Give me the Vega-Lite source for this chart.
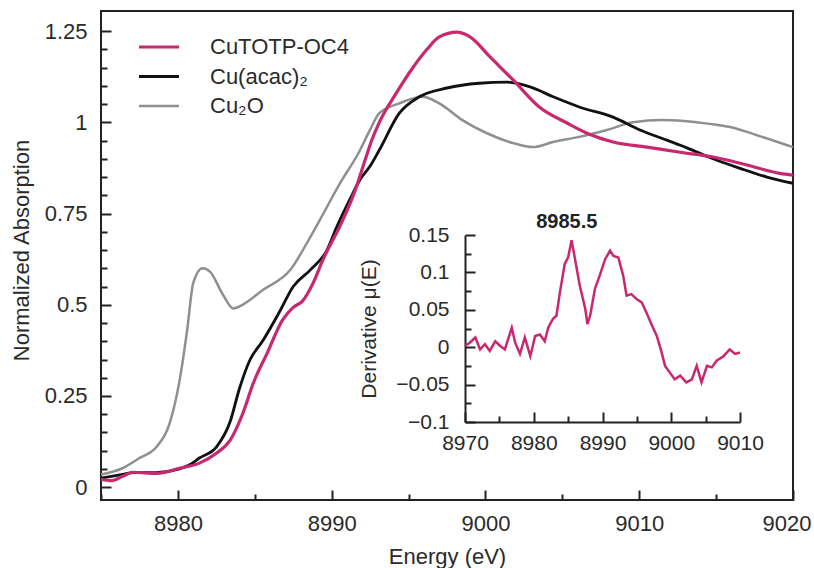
{
  "$schema": "https://vega.github.io/schema/vega-lite/v6.json",
  "width": 692,
  "height": 489,
  "autosize": {"type": "none"},
  "padding": {"left": 101, "top": 11, "right": 21, "bottom": 68},
  "config": {
    "view": {"stroke": "#222222", "strokeWidth": 2},
    "font": "Liberation Sans",
    "axis": {
      "grid": false,
      "tickColor": "#222222",
      "tickWidth": 2,
      "domainColor": "#222222",
      "domainWidth": 2,
      "labelColor": "#2a2a2a",
      "titleColor": "#2a2a2a",
      "labelFont": "Liberation Sans",
      "titleFont": "Liberation Sans",
      "titleFontWeight": "normal",
      "labelFlush": false,
      "labelOverlap": false
    }
  },
  "datasets": {
    "main": [
      {"sample": "Cu₂O", "E": 8975.0, "mu": 0.035},
      {"sample": "Cu₂O", "E": 8976.4, "mu": 0.052},
      {"sample": "Cu₂O", "E": 8977.5, "mu": 0.08},
      {"sample": "Cu₂O", "E": 8978.6, "mu": 0.11},
      {"sample": "Cu₂O", "E": 8979.5, "mu": 0.18},
      {"sample": "Cu₂O", "E": 8980.1, "mu": 0.29},
      {"sample": "Cu₂O", "E": 8980.6, "mu": 0.43},
      {"sample": "Cu₂O", "E": 8981.0, "mu": 0.56},
      {"sample": "Cu₂O", "E": 8981.6, "mu": 0.6},
      {"sample": "Cu₂O", "E": 8982.1, "mu": 0.59},
      {"sample": "Cu₂O", "E": 8982.9, "mu": 0.53},
      {"sample": "Cu₂O", "E": 8983.6, "mu": 0.49},
      {"sample": "Cu₂O", "E": 8984.2, "mu": 0.5},
      {"sample": "Cu₂O", "E": 8985.5, "mu": 0.54},
      {"sample": "Cu₂O", "E": 8987.3, "mu": 0.595},
      {"sample": "Cu₂O", "E": 8988.6, "mu": 0.685},
      {"sample": "Cu₂O", "E": 8989.2, "mu": 0.73},
      {"sample": "Cu₂O", "E": 8990.5, "mu": 0.83},
      {"sample": "Cu₂O", "E": 8991.8, "mu": 0.92},
      {"sample": "Cu₂O", "E": 8992.5, "mu": 0.98},
      {"sample": "Cu₂O", "E": 8993.1, "mu": 1.025},
      {"sample": "Cu₂O", "E": 8994.4, "mu": 1.052},
      {"sample": "Cu₂O", "E": 8995.9, "mu": 1.07},
      {"sample": "Cu₂O", "E": 8997.0, "mu": 1.052},
      {"sample": "Cu₂O", "E": 8998.5, "mu": 1.006},
      {"sample": "Cu₂O", "E": 9000.1, "mu": 0.97},
      {"sample": "Cu₂O", "E": 9001.8, "mu": 0.943},
      {"sample": "Cu₂O", "E": 9003.1, "mu": 0.932},
      {"sample": "Cu₂O", "E": 9004.4, "mu": 0.946},
      {"sample": "Cu₂O", "E": 9006.1, "mu": 0.96},
      {"sample": "Cu₂O", "E": 9007.9, "mu": 0.979},
      {"sample": "Cu₂O", "E": 9009.6, "mu": 1.0},
      {"sample": "Cu₂O", "E": 9011.5, "mu": 1.006},
      {"sample": "Cu₂O", "E": 9013.75, "mu": 1.0},
      {"sample": "Cu₂O", "E": 9015.9, "mu": 0.987},
      {"sample": "Cu₂O", "E": 9018.0, "mu": 0.96},
      {"sample": "Cu₂O", "E": 9020.0, "mu": 0.932},
      {"sample": "Cu(acac)₂", "E": 8975.0, "mu": 0.025},
      {"sample": "Cu(acac)₂", "E": 8976.4, "mu": 0.035},
      {"sample": "Cu(acac)₂", "E": 8977.1, "mu": 0.04},
      {"sample": "Cu(acac)₂", "E": 8978.6, "mu": 0.04},
      {"sample": "Cu(acac)₂", "E": 8980.1, "mu": 0.05},
      {"sample": "Cu(acac)₂", "E": 8980.8, "mu": 0.062},
      {"sample": "Cu(acac)₂", "E": 8981.4, "mu": 0.08},
      {"sample": "Cu(acac)₂", "E": 8982.5, "mu": 0.11},
      {"sample": "Cu(acac)₂", "E": 8983.4, "mu": 0.18},
      {"sample": "Cu(acac)₂", "E": 8984.0, "mu": 0.27},
      {"sample": "Cu(acac)₂", "E": 8984.7, "mu": 0.35},
      {"sample": "Cu(acac)₂", "E": 8985.5, "mu": 0.4},
      {"sample": "Cu(acac)₂", "E": 8986.6, "mu": 0.48},
      {"sample": "Cu(acac)₂", "E": 8987.5, "mu": 0.55},
      {"sample": "Cu(acac)₂", "E": 8988.6, "mu": 0.595},
      {"sample": "Cu(acac)₂", "E": 8989.7, "mu": 0.65},
      {"sample": "Cu(acac)₂", "E": 8990.3, "mu": 0.71},
      {"sample": "Cu(acac)₂", "E": 8991.2, "mu": 0.79},
      {"sample": "Cu(acac)₂", "E": 8991.8, "mu": 0.84},
      {"sample": "Cu(acac)₂", "E": 8992.5, "mu": 0.88},
      {"sample": "Cu(acac)₂", "E": 8993.1, "mu": 0.924},
      {"sample": "Cu(acac)₂", "E": 8994.4, "mu": 1.025},
      {"sample": "Cu(acac)₂", "E": 8995.7, "mu": 1.07},
      {"sample": "Cu(acac)₂", "E": 8997.5, "mu": 1.094},
      {"sample": "Cu(acac)₂", "E": 8999.6, "mu": 1.107},
      {"sample": "Cu(acac)₂", "E": 9001.4, "mu": 1.11},
      {"sample": "Cu(acac)₂", "E": 9002.9, "mu": 1.097},
      {"sample": "Cu(acac)₂", "E": 9004.4, "mu": 1.07},
      {"sample": "Cu(acac)₂", "E": 9006.1, "mu": 1.042},
      {"sample": "Cu(acac)₂", "E": 9008.3, "mu": 1.014},
      {"sample": "Cu(acac)₂", "E": 9010.05, "mu": 0.979},
      {"sample": "Cu(acac)₂", "E": 9011.8, "mu": 0.951},
      {"sample": "Cu(acac)₂", "E": 9013.1, "mu": 0.93},
      {"sample": "Cu(acac)₂", "E": 9014.8, "mu": 0.9},
      {"sample": "Cu(acac)₂", "E": 9016.55, "mu": 0.874},
      {"sample": "Cu(acac)₂", "E": 9018.3, "mu": 0.85},
      {"sample": "Cu(acac)₂", "E": 9020.0, "mu": 0.833},
      {"sample": "CuTOTP-OC4", "E": 8975.0, "mu": 0.022},
      {"sample": "CuTOTP-OC4", "E": 8975.7, "mu": 0.018},
      {"sample": "CuTOTP-OC4", "E": 8976.4, "mu": 0.03},
      {"sample": "CuTOTP-OC4", "E": 8977.1, "mu": 0.041},
      {"sample": "CuTOTP-OC4", "E": 8978.6, "mu": 0.038},
      {"sample": "CuTOTP-OC4", "E": 8980.1, "mu": 0.052},
      {"sample": "CuTOTP-OC4", "E": 8981.4, "mu": 0.066},
      {"sample": "CuTOTP-OC4", "E": 8982.5, "mu": 0.093},
      {"sample": "CuTOTP-OC4", "E": 8983.4, "mu": 0.129},
      {"sample": "CuTOTP-OC4", "E": 8984.2, "mu": 0.2},
      {"sample": "CuTOTP-OC4", "E": 8984.9, "mu": 0.285},
      {"sample": "CuTOTP-OC4", "E": 8985.8, "mu": 0.367},
      {"sample": "CuTOTP-OC4", "E": 8986.8, "mu": 0.458},
      {"sample": "CuTOTP-OC4", "E": 8987.5, "mu": 0.493},
      {"sample": "CuTOTP-OC4", "E": 8988.1, "mu": 0.51},
      {"sample": "CuTOTP-OC4", "E": 8988.8, "mu": 0.56},
      {"sample": "CuTOTP-OC4", "E": 8989.4, "mu": 0.62},
      {"sample": "CuTOTP-OC4", "E": 8990.7, "mu": 0.73},
      {"sample": "CuTOTP-OC4", "E": 8991.5, "mu": 0.81},
      {"sample": "CuTOTP-OC4", "E": 8992.2, "mu": 0.9},
      {"sample": "CuTOTP-OC4", "E": 8992.6, "mu": 0.95},
      {"sample": "CuTOTP-OC4", "E": 8993.1, "mu": 1.0},
      {"sample": "CuTOTP-OC4", "E": 8994.2, "mu": 1.08},
      {"sample": "CuTOTP-OC4", "E": 8995.3, "mu": 1.151},
      {"sample": "CuTOTP-OC4", "E": 8996.2, "mu": 1.2},
      {"sample": "CuTOTP-OC4", "E": 8997.0, "mu": 1.234},
      {"sample": "CuTOTP-OC4", "E": 8998.15, "mu": 1.247},
      {"sample": "CuTOTP-OC4", "E": 8999.0, "mu": 1.234},
      {"sample": "CuTOTP-OC4", "E": 9000.3, "mu": 1.179},
      {"sample": "CuTOTP-OC4", "E": 9001.8, "mu": 1.116},
      {"sample": "CuTOTP-OC4", "E": 9003.5, "mu": 1.042},
      {"sample": "CuTOTP-OC4", "E": 9005.3, "mu": 0.998},
      {"sample": "CuTOTP-OC4", "E": 9006.6, "mu": 0.97},
      {"sample": "CuTOTP-OC4", "E": 9008.3, "mu": 0.946},
      {"sample": "CuTOTP-OC4", "E": 9010.5, "mu": 0.932},
      {"sample": "CuTOTP-OC4", "E": 9012.65, "mu": 0.918},
      {"sample": "CuTOTP-OC4", "E": 9014.8, "mu": 0.905},
      {"sample": "CuTOTP-OC4", "E": 9017.0, "mu": 0.883},
      {"sample": "CuTOTP-OC4", "E": 9019.15, "mu": 0.86},
      {"sample": "CuTOTP-OC4", "E": 9020.0, "mu": 0.855}
    ],
    "deriv": [
      {"E": 8970.0, "dmu": 0.002},
      {"E": 8970.7, "dmu": 0.006},
      {"E": 8971.5, "dmu": 0.013},
      {"E": 8972.2, "dmu": -0.003},
      {"E": 8972.9, "dmu": 0.004},
      {"E": 8973.6, "dmu": -0.005},
      {"E": 8974.4, "dmu": 0.008},
      {"E": 8975.1, "dmu": 0.002},
      {"E": 8975.8, "dmu": -0.003},
      {"E": 8976.8, "dmu": 0.026},
      {"E": 8977.3, "dmu": 0.006},
      {"E": 8978.0, "dmu": -0.009},
      {"E": 8978.7, "dmu": 0.013},
      {"E": 8979.5, "dmu": -0.012},
      {"E": 8980.2, "dmu": 0.015},
      {"E": 8980.9, "dmu": 0.017},
      {"E": 8981.6, "dmu": 0.008},
      {"E": 8982.1, "dmu": 0.026},
      {"E": 8982.8, "dmu": 0.038},
      {"E": 8983.3, "dmu": 0.042},
      {"E": 8983.8, "dmu": 0.073},
      {"E": 8984.5, "dmu": 0.111},
      {"E": 8985.0, "dmu": 0.12},
      {"E": 8985.5, "dmu": 0.143},
      {"E": 8986.0, "dmu": 0.118},
      {"E": 8986.7, "dmu": 0.082},
      {"E": 8987.5, "dmu": 0.051},
      {"E": 8987.8, "dmu": 0.031},
      {"E": 8988.2, "dmu": 0.042},
      {"E": 8988.9, "dmu": 0.078},
      {"E": 8989.6, "dmu": 0.096},
      {"E": 8990.4, "dmu": 0.118},
      {"E": 8991.1, "dmu": 0.129},
      {"E": 8991.6, "dmu": 0.122},
      {"E": 8992.3, "dmu": 0.12},
      {"E": 8993.0, "dmu": 0.096},
      {"E": 8993.5, "dmu": 0.069},
      {"E": 8994.2, "dmu": 0.071},
      {"E": 8995.0, "dmu": 0.064},
      {"E": 8995.7, "dmu": 0.06},
      {"E": 8996.4, "dmu": 0.046},
      {"E": 8997.2, "dmu": 0.029},
      {"E": 8997.9, "dmu": 0.015},
      {"E": 8998.6, "dmu": -0.007},
      {"E": 8999.1, "dmu": -0.025},
      {"E": 8999.8, "dmu": -0.034},
      {"E": 9000.5, "dmu": -0.043},
      {"E": 9001.3, "dmu": -0.038},
      {"E": 9002.2, "dmu": -0.047},
      {"E": 9003.0, "dmu": -0.043},
      {"E": 9003.7, "dmu": -0.025},
      {"E": 9004.4, "dmu": -0.047},
      {"E": 9005.2, "dmu": -0.025},
      {"E": 9005.9, "dmu": -0.027},
      {"E": 9006.6, "dmu": -0.018},
      {"E": 9007.6, "dmu": -0.012},
      {"E": 9008.5, "dmu": -0.003},
      {"E": 9009.3, "dmu": -0.009},
      {"E": 9010.0, "dmu": -0.007}
    ],
    "note": [
      {"E": 8984.8, "dmu": 0.1676, "label": "8985.5"}
    ]
  },
  "layer": [
    {
      "layer": [
        {
          "data": {"name": "main"},
          "mark": {"type": "line", "interpolate": "monotone"},
          "encoding": {
            "x": {
              "field": "E",
              "type": "quantitative",
              "scale": {"domain": [8975, 9020], "nice": false, "zero": false},
              "axis": {
                "orient": "bottom",
                "title": "Energy (eV)",
                "values": [8980, 8990, 9000, 9010, 9020],
                "format": "d",
                "ticks": false,
                "tickSize": 0,
                "labelPadding": 30,
                "labelBaseline": "alphabetic",
                "labelFontSize": 22,
                "labelFlush": true,
                "labelFlushOffset": 18,
                "titleFontSize": 22,
                "titleBaseline": "alphabetic",
                "titleY": 63,
                "domain": false
              }
            },
            "y": {
              "field": "mu",
              "type": "quantitative",
              "scale": {"domain": [-0.035, 1.305], "nice": false, "zero": false},
              "axis": {
                "orient": "left",
                "title": "Normalized Absorption",
                "values": [0, 0.25, 0.5, 0.75, 1, 1.25],
                "labelExpr": "format(datum.value, '~g')",
                "ticks": false,
                "tickSize": 0,
                "labelPadding": 14,
                "labelFontSize": 22,
                "titleFontSize": 22,
                "titleX": -68,
                "titleY": 239,
                "domain": false
              }
            },
            "color": {
              "field": "sample",
              "type": "nominal",
              "scale": {"domain": ["CuTOTP-OC4", "Cu(acac)₂", "Cu₂O"], "range": ["#c8286e", "#111111", "#8f8f8f"]},
              "legend": {
                "title": null,
                "orient": "none",
                "legendX": 36,
                "legendY": 25,
                "padding": 0,
                "symbolType": "stroke",
                "symbolSize": 1600,
                "symbolStrokeWidth": 3,
                "clipHeight": 22,
                "rowPadding": 7.5,
                "labelOffset": 29,
                "labelFontSize": 22,
                "labelFont": "Liberation Sans",
                "labelColor": "#2a2a2a"
              }
            },
            "strokeWidth": {
              "field": "sample",
              "type": "nominal",
              "scale": {"domain": ["CuTOTP-OC4", "Cu(acac)₂", "Cu₂O"], "range": [3.2, 2.5, 2.2]},
              "legend": null
            }
          }
        },
        {
          "data": {"name": "main"},
          "mark": {"type": "point", "opacity": 0},
          "encoding": {
            "x": {
              "field": "E",
              "type": "quantitative",
              "axis": {
                "orient": "top",
                "offset": -489,
                "title": null,
                "labels": false,
                "domain": false,
                "values": [8975, 8980, 8985, 8990, 8995, 9000, 9005, 9010, 9015, 9020],
                "tickSize": {"condition": {"test": "datum.value % 10 === 0", "value": 10}, "value": 6}
              }
            },
            "y": {
              "field": "mu",
              "type": "quantitative",
              "axis": {
                "orient": "right",
                "offset": -692,
                "title": null,
                "labels": false,
                "domain": false,
                "values": [0, 0.05, 0.1, 0.15, 0.2, 0.25, 0.3, 0.35, 0.4, 0.45, 0.5, 0.55, 0.6, 0.65, 0.7, 0.75, 0.8, 0.85, 0.9, 0.95, 1, 1.05, 1.1, 1.15, 1.2, 1.25],
                "tickSize": {"condition": {"test": "abs(datum.value*4 - round(datum.value*4)) < 0.001", "value": 10}, "value": 6}
              }
            }
          }
        }
      ],
      "resolve": {"axis": {"x": "independent", "y": "independent"}}
    },
    {
      "layer": [
        {
          "data": {"name": "deriv"},
          "mark": {"type": "line", "color": "#c8286e", "strokeWidth": 2.5},
          "encoding": {
            "x": {
              "field": "E",
              "type": "quantitative",
              "scale": {"domain": [8970, 9010], "range": [364, 639], "nice": false, "zero": false},
              "axis": {
                "orient": "bottom",
                "offset": -78,
                "title": null,
                "values": [8970, 8980, 8990, 9000, 9010],
                "format": "d",
                "ticks": false,
                "tickSize": 0,
                "labelPadding": 27,
                "labelBaseline": "alphabetic",
                "labelFontSize": 21
              }
            },
            "y": {
              "field": "dmu",
              "type": "quantitative",
              "scale": {"domain": [-0.1, 0.15], "range": [411, 224], "nice": false, "zero": false},
              "axis": {
                "orient": "left",
                "offset": -364,
                "title": "Derivative μ(E)",
                "values": [-0.1, -0.05, 0, 0.05, 0.1, 0.15],
                "labelExpr": "format(datum.value, '~g')",
                "ticks": false,
                "tickSize": 0,
                "labelPadding": 16,
                "labelFontSize": 21,
                "titleFontSize": 21,
                "titleX": -86
              }
            }
          }
        },
        {
          "data": {"name": "deriv"},
          "mark": {"type": "point", "opacity": 0},
          "encoding": {
            "x": {
              "field": "E",
              "type": "quantitative",
              "axis": {
                "orient": "top",
                "offset": -411,
                "title": null,
                "labels": false,
                "domain": false,
                "values": [8970, 8975, 8980, 8985, 8990, 8995, 9000, 9005, 9010],
                "tickSize": {"condition": {"test": "datum.value % 10 === 0", "value": 10}, "value": 6}
              }
            },
            "y": {
              "field": "dmu",
              "type": "quantitative",
              "axis": {
                "orient": "right",
                "offset": -328,
                "title": null,
                "labels": false,
                "domain": false,
                "values": [-0.1, -0.075, -0.05, -0.025, 0, 0.025, 0.05, 0.075, 0.1, 0.125, 0.15],
                "tickSize": {"condition": {"test": "abs(datum.value*20 - round(datum.value*20)) < 0.001", "value": 10}, "value": 6}
              }
            }
          }
        },
        {
          "data": {"name": "note"},
          "mark": {"type": "text", "fontSize": 20, "fontWeight": "bold", "color": "#222222", "baseline": "middle", "align": "center"},
          "encoding": {
            "x": {"field": "E", "type": "quantitative", "axis": null},
            "y": {"field": "dmu", "type": "quantitative", "axis": null},
            "text": {"field": "label"}
          }
        }
      ],
      "resolve": {"axis": {"x": "independent", "y": "independent"}}
    }
  ],
  "resolve": {"scale": {"x": "independent", "y": "independent"}}
}
